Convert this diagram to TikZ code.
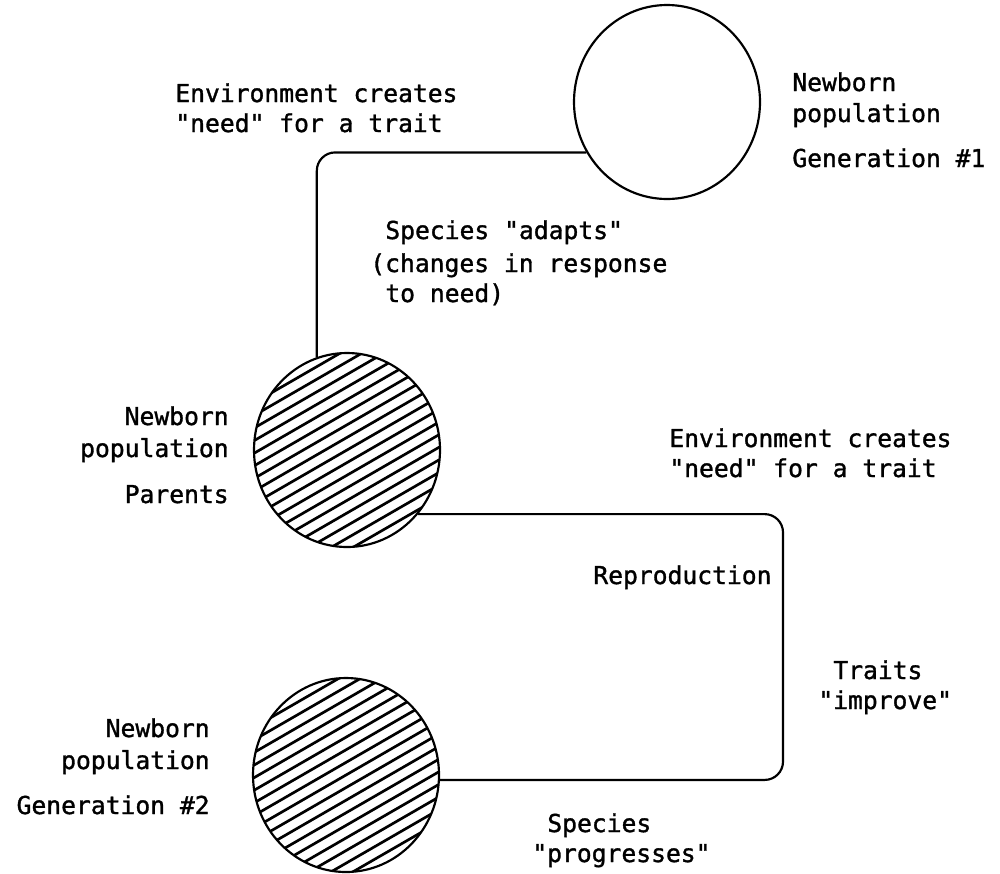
\documentclass[tikz,border=0pt]{standalone}
\usepackage{fontspec}
\newfontfamily\typewr[FakeBold=1.3]{DejaVu Sans Mono}
\usetikzlibrary{shapes.geometric}
\begin{document}
\begin{tikzpicture}[x=0.6pt,y=-0.6pt,
  pop/.style={ellipse,draw,line width=1.3pt,minimum width=111.6pt,minimum height=116.4pt,inner sep=0pt},
  link/.style={line width=1.3pt,rounded corners=11pt},
  hatch/.style={line width=1.6pt},
  lbl/.style={inner sep=0pt,font=\typewr\fontsize{14.8pt}{18pt}\selectfont},
  lw/.style={lbl,anchor=base west},
  le/.style={lbl,anchor=base east}]
\useasboundingbox (0,0) rectangle (1000,873);

% populations
\node[pop] (gen1) at (667,102) {};
\node[pop] (parents) at (347,450) {};
\node[pop] (gen2) at (346,775) {};

% hatching of the two later populations
\foreach \c in {parents,gen2}{
  \begin{scope}
    \clip (\c.center) ellipse [x radius=55.8pt, y radius=58.2pt];
    \foreach \k in {-10,...,10}
      \draw[hatch] ([shift={(-110,\k*12.6+63.5)}]\c.center) -- ([shift={(110,\k*12.6-63.5)}]\c.center);
  \end{scope}
}

% connectors
\draw[link] (gen1.212) -| (parents.108);
\coordinate (bend) at (783,600);
\draw[link] (parents.-42) -| (bend) |- (gen2.-3);

% labels
\node[lw] (envA1) at (175,102) {Environment creates};
\node[lw] (envA2) at (175,132) {"need" for a trait};

\node[lw] (g1a) at (792,91) {Newborn};
\node[lw] (g1b) at (792,122) {population};
\node[lw] (g1c) at (792,167) {Generation \#1};

\node[lw] (adA) at (385,239) {Species "adapts"};
\node[lw] (adB) at (370,272) {(changes in response};
\node[lw] (adC) at (385,302) {to need)};

\node[le] (paA) at (229,425) {Newborn};
\node[le] (paB) at (229,457) {population};
\node[le] (paC) at (229,503) {Parents};

\node[lw] (envB1) at (669,447) {Environment creates};
\node[lw] (envB2) at (669,477) {"need" for a trait};

\node[lw] (repro) at (593,584) {Reproduction};

\node[lw] (trA) at (833,679) {Traits};
\node[lw] (trB) at (818,709) {"improve"};

\node[le] (g2a) at (210,737) {Newborn};
\node[le] (g2b) at (210,769) {population};
\node[le] (g2c) at (210,814) {Generation \#2};

\node[lw] (prA) at (547,832) {Species};
\node[lw] (prB) at (532,862) {"progresses"};
\end{tikzpicture}
\end{document}
